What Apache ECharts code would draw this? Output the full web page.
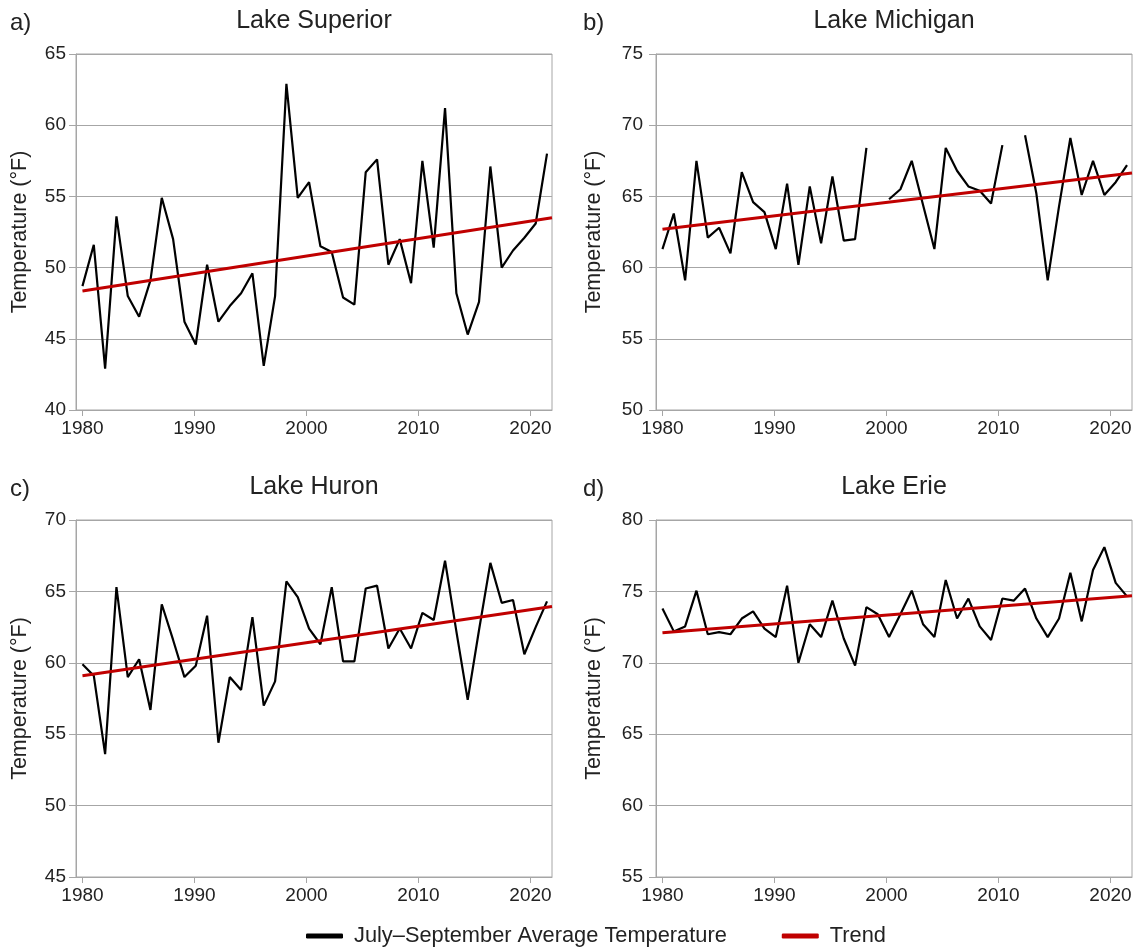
<!DOCTYPE html>
<html>
<head>
<meta charset="utf-8">
<title>Great Lakes summer surface temperature</title>
<script src="https://cdn.jsdelivr.net/npm/echarts@6/dist/echarts.min.js"></script>
<style>
  html, body { margin: 0; padding: 0; background: #fff; }
  #chart { width: 1137px; height: 947px; }
</style>
</head>
<body>
<div id="chart"></div>
<script>
// July–September average surface temperature (°F)
var years = [1980, 1981, 1982, 1983, 1984, 1985, 1986, 1987, 1988, 1989,
  1990, 1991, 1992, 1993, 1994, 1995, 1996, 1997, 1998, 1999,
  2000, 2001, 2002, 2003, 2004, 2005, 2006, 2007, 2008, 2009,
  2010, 2011, 2012, 2013, 2014, 2015, 2016, 2017, 2018, 2019,
  2020, 2021];

var superior = [48.7, 51.6, 42.9, 53.6, 48.0, 46.55, 49.1, 54.9, 52.0, 46.2,
  44.6, 50.2, 46.2, 47.3, 48.2, 49.6, 43.1, 48.0, 62.9, 54.9,
  56.0, 51.5, 51.1, 47.9, 47.4, 56.7, 57.6, 50.2, 52.0, 48.9,
  57.5, 51.4, 61.2, 48.2, 45.3, 47.6, 57.1, 50.0, 51.2, 52.1,
  53.1, 58.0];

var michigan = [61.3, 63.8, 59.1, 67.5, 62.1, 62.8, 61.0, 66.7, 64.6, 63.9,
  61.3, 65.9, 60.2, 65.7, 61.7, 66.4, 61.9, 62.0, 68.4, null,
  64.8, 65.5, 67.5, 64.4, 61.3, 68.4, 66.8, 65.7, 65.4, 64.5,
  68.6, null, 69.3, 65.2, 59.1, 64.3, 69.1, 65.1, 67.5, 65.1,
  66.0, 67.2];

var huron = [59.9, 59.1, 53.6, 65.3, 59.0, 60.25, 56.7, 64.1, 61.6, 59.0,
  59.8, 63.3, 54.4, 59.0, 58.1, 63.2, 57.0, 58.7, 65.7, 64.6,
  62.4, 61.3, 65.3, 60.1, 60.1, 65.2, 65.4, 61.0, 62.4, 61.0,
  63.5, 63.0, 67.15, 62.2, 57.4, 62.3, 67.0, 64.2, 64.4, 60.6,
  62.5, 64.3];

var erie = [73.8, 72.2, 72.55, 75.05, 72.0, 72.15, 72.0, 73.1, 73.6, 72.4,
  71.8, 75.4, 70.0, 72.7, 71.8, 74.35, 71.7, 69.8, 73.9, 73.4,
  71.8, 73.4, 75.05, 72.7, 71.8, 75.8, 73.1, 74.5, 72.55, 71.6,
  74.5, 74.35, 75.2, 73.1, 71.8, 73.1, 76.3, 72.9, 76.5, 78.1,
  75.6, 74.65];

// trend line end points [start, end]
var trendYears = [1980, 2021.44];
var superiorTrend = [48.35, 53.5];
var michiganTrend = [62.7, 66.65];
var huronTrend = [59.1, 63.95];
var erieTrend = [72.1, 74.7];

var xTicks = [1980, 1990, 2000, 2010, 2020];
var yRanges = [[40, 65], [50, 75], [45, 70], [55, 80]];
var lakeNames = ["Lake Superior", "Lake Michigan", "Lake Huron", "Lake Erie"];
var panelLetters = ["a)", "b)", "c)", "d)"];

(function () {
  var FONT = "'Liberation Sans', Arial, sans-serif";
  var GRAY = "#a6a6a6";
  var TEXT = "#222";
  var DATA_NAME = "July–September Average Temperature";
  var TREND_NAME = "Trend";

  var values = [superior, michigan, huron, erie];
  var trends = [superiorTrend, michiganTrend, huronTrend, erieTrend];

  // panel boxes in px
  var boxes = [
    { left: 76, top: 54, width: 476, height: 356, nameGap: 45, labelMargin: 10 },
    { left: 656, top: 54, width: 476, height: 356, nameGap: 51, labelMargin: 13 },
    { left: 76, top: 520, width: 476, height: 357, nameGap: 45, labelMargin: 10 },
    { left: 656, top: 520, width: 476, height: 357, nameGap: 51, labelMargin: 13 }
  ];

  function pairs(xs, ys) {
    return xs.map(function (x, i) { return [x, ys[i]]; });
  }

  var grids = [], xAxes = [], yAxes = [], series = [], graphics = [];

  boxes.forEach(function (b, i) {
    grids.push({
      left: b.left, top: b.top, width: b.width, height: b.height,
      show: true, borderColor: GRAY, borderWidth: 1, backgroundColor: "transparent"
    });

    // visible axis with the year labels
    xAxes.push({
      type: "value", gridIndex: i, min: 1979.42, max: 2021.92,
      axisLine: { show: true, lineStyle: { color: GRAY, width: 1 } },
      axisTick: { show: true, customValues: xTicks, length: 6, lineStyle: { color: GRAY } },
      axisLabel: {
        customValues: xTicks, margin: 9, fontSize: 19, color: TEXT, fontFamily: FONT,
        formatter: function (v) { return String(v); }
      },
      splitLine: { show: false }
    });
    // hidden axis that carries the data (points sit slightly wider than the labels)
    xAxes.push({
      type: "value", gridIndex: i, min: 1979.43, max: 2021.44, show: false
    });

    yAxes.push({
      type: "value", gridIndex: i, min: yRanges[i][0], max: yRanges[i][1], interval: 5,
      name: "Temperature (°F)", nameLocation: "middle", nameGap: b.nameGap,
      nameTextStyle: { fontSize: 21.5, color: TEXT, fontFamily: FONT },
      axisLine: { show: true, lineStyle: { color: GRAY, width: 1 } },
      axisTick: { show: true, length: 7, lineStyle: { color: GRAY } },
      axisLabel: { margin: b.labelMargin, fontSize: 19, color: TEXT, fontFamily: FONT },
      splitLine: { show: true, lineStyle: { color: GRAY, width: 1 } }
    });

    series.push({
      name: DATA_NAME, type: "line", xAxisIndex: i * 2 + 1, yAxisIndex: i,
      data: pairs(years, values[i]), showSymbol: false, connectNulls: false,
      lineStyle: { color: "#000", width: 2.2 }, itemStyle: { color: "#000" },
      z: 3, silent: true, animation: false
    });
    series.push({
      name: TREND_NAME, type: "line", xAxisIndex: i * 2 + 1, yAxisIndex: i,
      data: pairs(trendYears, trends[i]), showSymbol: false,
      lineStyle: { color: "#c00000", width: 3 }, itemStyle: { color: "#c00000" },
      z: 4, silent: true, animation: false
    });

    graphics.push({
      type: "text", x: b.left + b.width / 2, y: b.top - 33,
      style: { text: lakeNames[i], fontSize: 25, fontFamily: FONT, fill: TEXT,
        textAlign: "center", textVerticalAlign: "middle" }
    });
    graphics.push({
      type: "text", x: i % 2 === 0 ? 10 : 583, y: b.top - 31,
      style: { text: panelLetters[i], fontSize: 24, fontFamily: FONT, fill: TEXT,
        textAlign: "left", textVerticalAlign: "middle" }
    });
  });

  var chart = echarts.init(document.getElementById("chart"), null, { renderer: "canvas" });
  chart.setOption({
    backgroundColor: "#fff",
    animation: false,
    grid: grids,
    xAxis: xAxes,
    yAxis: yAxes,
    series: series,
    graphic: graphics,
    legend: {
      left: 301, top: 920, itemGap: 55, itemWidth: 37, itemHeight: 5, icon: "roundRect",
      selectedMode: false,
      textStyle: { fontSize: 21.8, color: TEXT, fontFamily: FONT, padding: [0, 0, 0, 6] },
      data: [
        { name: DATA_NAME, itemStyle: { color: "#000" } },
        { name: TREND_NAME, itemStyle: { color: "#c00000" } }
      ]
    }
  });
})();
</script>
</body>
</html>
